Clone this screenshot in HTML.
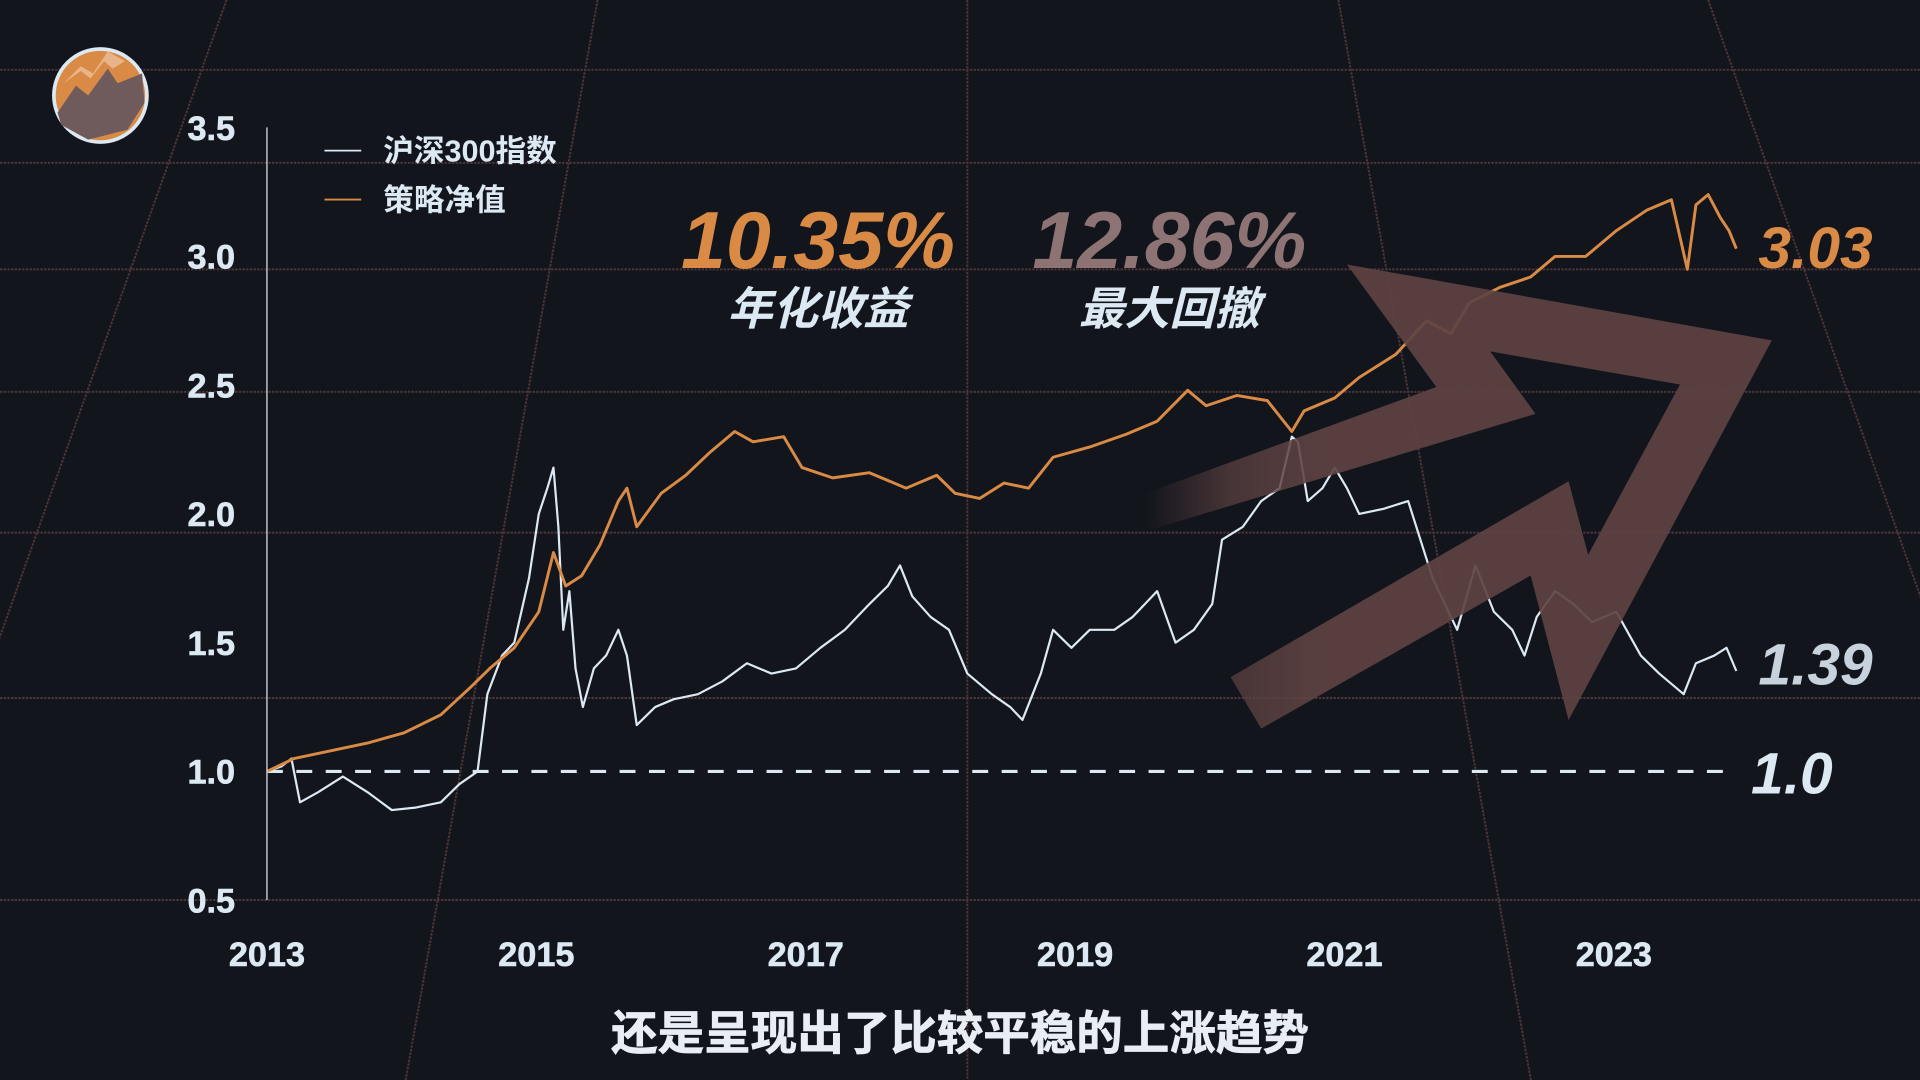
<!DOCTYPE html>
<html><head><meta charset="utf-8">
<style>
html,body{margin:0;padding:0;background:#12151c;width:1920px;height:1080px;overflow:hidden}
svg{display:block}
text{font-family:"Liberation Sans","Noto Sans CJK SC",sans-serif;font-weight:bold}
</style></head>
<body>
<svg id="chart" width="1920" height="1080" viewBox="0 0 1568 882" xmlns="http://www.w3.org/2000/svg">
<defs>
<linearGradient id="fadeA" gradientUnits="userSpaceOnUse" x1="935" y1="0" x2="1075" y2="0">
<stop offset="0" stop-color="#5e4242" stop-opacity="0"/>
<stop offset="0.5" stop-color="#5e4242" stop-opacity="0.7"/>
<stop offset="1" stop-color="#5e4242" stop-opacity="0.92"/>
</linearGradient>
</defs>
<rect width="1568" height="882" fill="#12151c"/>
<g id="grid"></g>
<g id="lines"></g>
<path d="M1100,216 L1447,278 L1281,588 L1250,470 L1030,595 L1005,553 L1281,393 L1297,453 L1372,314 L1217,287 L1254,338 L935,434 L935,403 L1173,316 Z" fill="url(#fadeA)"/>
<g id="axes"></g>
<g>
<circle cx="82" cy="78" r="38" fill="#d98a45" stroke="#dce8f2" stroke-width="3"/>
<path d="M47,92 L62,70 L72,78 L88,56 L96,68 L116,60 L118,84 L104,106 L72,114 L50,102 Z" fill="#6f5a5c"/>
<path d="M52,68 L66,54 L76,60 L88,42 L102,50 L92,56 L85,50 L74,64 L66,58 Z" fill="#e9b48a"/>
</g>
<g>
<line x1="265" y1="123" x2="295" y2="123" stroke="#dce8f2" stroke-width="1.5"/>
<text x="313" y="132" font-size="25" fill="#dce8f2">沪深300指数</text>
<line x1="265" y1="163" x2="295" y2="163" stroke="#d98a45" stroke-width="1.5"/>
<text x="313" y="172" font-size="25" fill="#dce8f2">策略净值</text>
</g>
<text x="668" y="219" text-anchor="middle" font-size="66" font-style="italic" fill="#d98a45">10.35%</text>
<text x="668" y="265" text-anchor="middle" font-size="37" font-style="italic" fill="#dce8f2">年化收益</text>
<text x="955" y="219" text-anchor="middle" font-size="66" font-style="italic" fill="#8d7373">12.86%</text>
<text x="955" y="265" text-anchor="middle" font-size="37" font-style="italic" fill="#dce8f2">最大回撤</text>
<text x="1436" y="219" font-size="48" font-style="italic" fill="#d98a45">3.03</text>
<text x="1436" y="559" font-size="48" font-style="italic" fill="#c8d2dc">1.39</text>
<text x="1430" y="648" font-size="48" font-style="italic" fill="#dce8f2">1.0</text>
<text x="784" y="857" text-anchor="middle" font-size="38" fill="#e8eef4" stroke="#e8eef4" stroke-width="0.6">还是呈现出了比较平稳的上涨趋势</text>
</svg>
<script>
const yTicks = [0.5, 1.0, 1.5, 2.0, 2.5, 3.0, 3.5];
const xTicks = [2013, 2015, 2017, 2019, 2021, 2023];
const indexX = [218,230,238,245,260,280,300,320,340,360,375,390,398,410,420,432,440,447,452,456,460,465,470,476,485,495,505,512,520,535,550,570,590,610,630,650,670,690,710,725,735,745,760,775,790,810,825,835,850,860,875,890,910,925,945,960,975,990,998,1015,1030,1045,1055,1060,1068,1080,1090,1100,1110,1130,1150,1160,1170,1180,1190,1205,1220,1235,1245,1255,1270,1285,1300,1320,1340,1355,1375,1385,1400,1410,1418];
const indexValues = [1.00,1.02,1.05,0.88,0.92,0.98,0.92,0.85,0.86,0.88,0.95,1.00,1.30,1.45,1.50,1.75,2.00,2.10,2.18,1.95,1.55,1.70,1.40,1.25,1.40,1.45,1.55,1.45,1.18,1.25,1.28,1.30,1.35,1.42,1.38,1.40,1.48,1.55,1.65,1.72,1.80,1.68,1.60,1.55,1.38,1.30,1.25,1.20,1.38,1.55,1.48,1.55,1.55,1.60,1.70,1.50,1.55,1.65,1.90,1.95,2.05,2.10,2.30,2.28,2.05,2.10,2.18,2.10,2.00,2.02,2.05,1.90,1.75,1.65,1.55,1.80,1.62,1.55,1.45,1.60,1.70,1.65,1.58,1.62,1.45,1.38,1.30,1.42,1.45,1.48,1.39];
const strategyX = [218,240,270,300,330,360,385,400,420,440,452,462,475,490,505,512,520,540,560,580,600,615,640,655,680,710,740,765,780,800,820,840,860,890,920,945,970,985,1010,1035,1055,1065,1090,1110,1140,1165,1185,1200,1225,1250,1270,1295,1320,1345,1365,1378,1385,1395,1405,1412,1418];
const strategyValues = [1.00,1.05,1.08,1.11,1.15,1.22,1.33,1.40,1.48,1.62,1.85,1.72,1.76,1.88,2.05,2.10,1.95,2.08,2.15,2.24,2.32,2.28,2.30,2.18,2.14,2.16,2.10,2.15,2.08,2.06,2.12,2.10,2.22,2.26,2.31,2.36,2.48,2.42,2.46,2.44,2.32,2.40,2.45,2.53,2.62,2.75,2.70,2.82,2.88,2.92,3.00,3.00,3.10,3.18,3.22,2.95,3.20,3.24,3.15,3.10,3.03];
const indexYears = indexX.map(v => 2013 + (v - 218) / 110);
const strategyYears = strategyX.map(v => 2013 + (v - 218) / 110);
const NS = "http://www.w3.org/2000/svg";
const xS = yr => 218 + (yr - 2013) * 110;
const yS = v => 630 - (v - 1.0) * 210.3;
function mk(tag, attrs, parent){ const e=document.createElementNS(NS,tag); for(const k in attrs) e.setAttribute(k,attrs[k]); parent.appendChild(e); return e; }
const grid=document.getElementById('grid');
[57,133,220,320,435,570,735].forEach(y=>{
  const l=mk('line',{x1:0,x2:1568,y1:y,y2:y,stroke:'#4b3538','stroke-width':1.6,'stroke-dasharray':'2 1'},grid);
  
  
});
[-420,-118,185,488,790,1093,1395,1698,2000].forEach(x0=>{
  const vx=790, vy=-1700;
  const x1=vx+(x0-vx)*(882-vy)/(0-vy);
  const l=mk('line',{x1:x0,y1:0,x2:x1,y2:882,stroke:'#4b3538','stroke-width':1.6,'stroke-dasharray':'2 1'},grid);
  
  
});
const axes=document.getElementById('axes');
const ya=mk('line',{x1:218,y1:104,x2:218,y2:735,stroke:'#dce8f2','stroke-width':1},axes);


yTicks.forEach(t=>{
  const tx=mk('text',{x:192,y:yS(t)+10,'text-anchor':'end','font-size':28,fill:'#dce8f2',stroke:'#dce8f2','stroke-width':0.5},axes);
  tx.textContent=t.toFixed(1);
  
  
});
xTicks.forEach(t=>{
  const tx=mk('text',{x:xS(t),y:789,'text-anchor':'middle','font-size':28,fill:'#dce8f2',stroke:'#dce8f2','stroke-width':0.5},axes);
  tx.textContent=t;
  
  
});
const lines=document.getElementById('lines');
const base=mk('line',{x1:xS(2013),y1:yS(1),x2:1418,y2:yS(1),stroke:'#dce8f2','stroke-width':2.5,'stroke-dasharray':'13 11'},lines);


const pIdx=mk('polyline',{points:indexYears.map((yr,i)=>xS(yr)+','+yS(indexValues[i])).join(' '),fill:'none',stroke:'#dce8f2','stroke-width':1.8,'stroke-linejoin':'round'},lines);


const pStr=mk('polyline',{points:strategyYears.map((yr,i)=>xS(yr)+','+yS(strategyValues[i])).join(' '),fill:'none',stroke:'#d98a45','stroke-width':2.4,'stroke-linejoin':'round'},lines);


</script>
</body></html>
